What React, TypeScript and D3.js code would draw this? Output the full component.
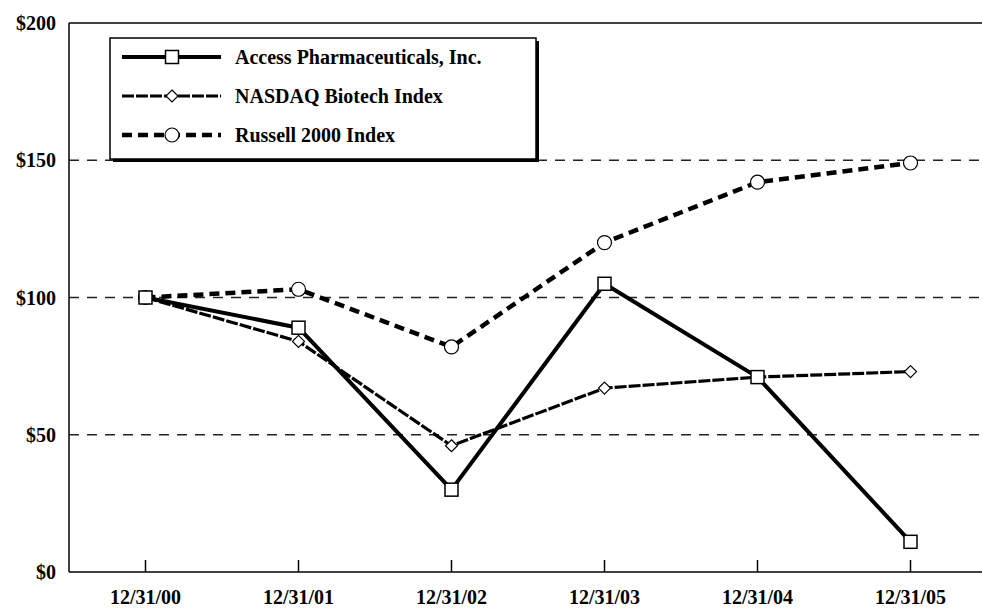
import React from "react";
import * as d3 from "d3";

const categories = ["12/31/00", "12/31/01", "12/31/02", "12/31/03", "12/31/04", "12/31/05"];
const accessValues = [100, 89, 30, 105, 71, 11];
const nasdaqValues = [100, 84, 46, 67, 71, 73];
const russellValues = [100, 103, 82, 120, 142, 149];
const yTicks = [0, 50, 100, 150, 200];
const seriesNames = ["Access Pharmaceuticals, Inc.", "NASDAQ Biotech Index", "Russell 2000 Index"];

const W = 982;
const H = 609;
const left = 69;
const top = 23;
const bottom = 572;
const right = 987;
const font = "'Liberation Serif', 'Times New Roman', serif";

type Marker = "square" | "diamond" | "circle";
const series: { name: string; values: number[]; dash: string; width: number; marker: Marker }[] = [
  { name: seriesNames[2], values: russellValues, dash: "10 6", width: 4.5, marker: "circle" },
  { name: seriesNames[1], values: nasdaqValues, dash: "12 2", width: 3.2, marker: "diamond" },
  { name: seriesNames[0], values: accessValues, dash: "", width: 4, marker: "square" },
];

function MarkerShape({ type, x, y }: { type: Marker; x: number; y: number }) {
  if (type === "square") {
    return <rect x={x - 6.5} y={y - 6.5} width={13} height={13} fill="#fff" stroke="#000" strokeWidth={1.5} />;
  }
  if (type === "diamond") {
    const s = 6;
    return (
      <path d={`M${x},${y - s}L${x + s},${y}L${x},${y + s}L${x - s},${y}Z`} fill="#fff" stroke="#000" strokeWidth={1.2} />
    );
  }
  return <circle cx={x} cy={y} r={7} fill="#fff" stroke="#000" strokeWidth={1.2} />;
}

export default function App() {
  const x = d3.scalePoint<string>().domain(categories).range([left, right]).padding(0.5);
  const y = d3.scaleLinear().domain([0, 200]).range([bottom, top]);
  const line = d3
    .line<number>()
    .x((_, i) => x(categories[i]) as number)
    .y((d) => y(d));

  const legendItems = [
    { name: seriesNames[0], dash: "", width: 4, marker: "square" as Marker },
    { name: seriesNames[1], dash: "12 2", width: 3.2, marker: "diamond" as Marker },
    { name: seriesNames[2], dash: "10 6", width: 4.5, marker: "circle" as Marker },
  ];
  const legX = 110;
  const legY = 38;
  const legW = 426;
  const legH = 121;

  return (
    <svg width={W} height={H} style={{ position: "absolute", left: 0, top: 0, background: "#fff" }}>
      <rect x={0} y={0} width={W} height={H} fill="#fff" />
      {yTicks
        .filter((t) => t > 0 && t < 200)
        .map((t) => (
          <line key={t} x1={left} x2={W} y1={y(t)} y2={y(t)} stroke="#222" strokeWidth={1.3} strokeDasharray="10 8" />
        ))}
      <line x1={left} x2={W} y1={top} y2={top} stroke="#000" strokeWidth={1.5} />
      <line x1={left} x2={left} y1={top} y2={bottom} stroke="#000" strokeWidth={1.5} />
      <line x1={left} x2={W} y1={bottom} y2={bottom} stroke="#000" strokeWidth={1.5} />
      {categories.map((c) => (
        <g key={c}>
          <line x1={x(c)} x2={x(c)} y1={bottom} y2={bottom - 12} stroke="#000" strokeWidth={1.5} />
          <text x={x(c)} y={bottom + 32} textAnchor="middle" fontFamily={font} fontWeight="bold" fontSize={20}>
            {c}
          </text>
        </g>
      ))}
      {yTicks.map((t) => (
        <text key={t} x={56} y={y(t) + 7} textAnchor="end" fontFamily={font} fontWeight="bold" fontSize={20}>
          {`$${t}`}
        </text>
      ))}
      {series.map((s) => (
        <g key={s.name}>
          <path
            d={line(s.values) as string}
            fill="none"
            stroke="#000"
            strokeWidth={s.width}
            strokeDasharray={s.dash || undefined}
            strokeLinejoin="round"
          />
          {s.values.map((v, i) => (
            <MarkerShape key={i} type={s.marker} x={x(categories[i]) as number} y={y(v)} />
          ))}
        </g>
      ))}
      <rect x={legX + 3} y={legY + 3} width={legW} height={legH} fill="#000" />
      <rect x={legX} y={legY} width={legW} height={legH} fill="#fff" stroke="#000" strokeWidth={1.5} />
      {legendItems.map((it, i) => {
        const ly = legY + 19 + i * 39;
        return (
          <g key={it.name}>
            <line
              x1={legX + 12}
              x2={legX + 111}
              y1={ly}
              y2={ly}
              stroke="#000"
              strokeWidth={it.width}
              strokeDasharray={it.dash || undefined}
            />
            <MarkerShape type={it.marker} x={legX + 62} y={ly} />
            <text x={legX + 125} y={ly + 7} fontFamily={font} fontWeight="bold" fontSize={20}>
              {it.name}
            </text>
          </g>
        );
      })}
    </svg>
  );
}
